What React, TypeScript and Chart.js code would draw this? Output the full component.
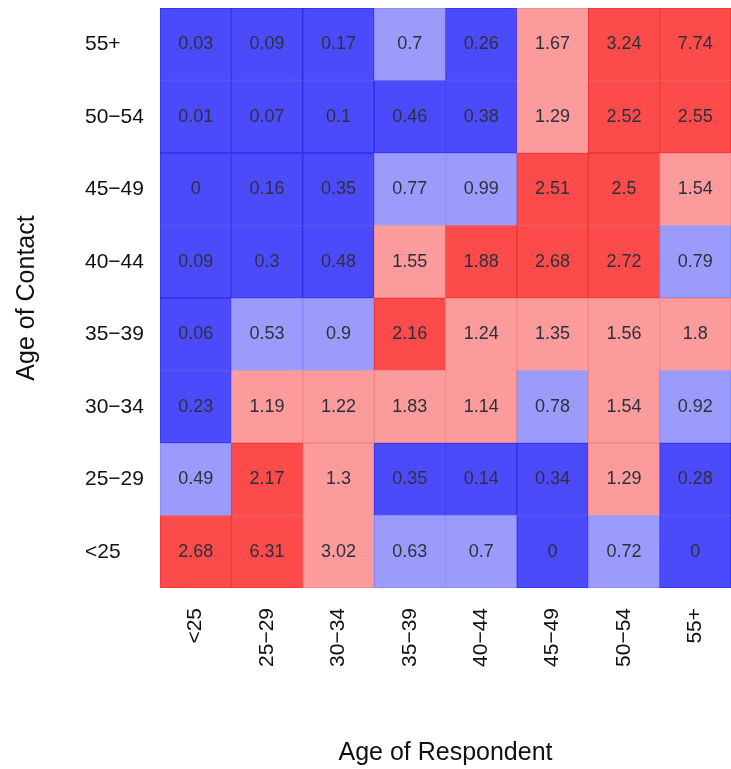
import React, { useEffect, useRef } from 'react';
import { Chart, registerables } from 'chart.js';

Chart.register(...registerables);

// Age groups (x: respondent, y: contact; y listed bottom to top)
const respondentAges = ['<25', '25\u221229', '30\u221234', '35\u221239', '40\u221244', '45\u221249', '50\u221254', '55+'];
const contactAges = ['<25', '25\u221229', '30\u221234', '35\u221239', '40\u221244', '45\u221249', '50\u221254', '55+'];

// Cell values per contact-age row, columns = respondent ages
const contactLt25 = [2.68, 6.31, 3.02, 0.63, 0.7, 0, 0.72, 0];
const contact25to29 = [0.49, 2.17, 1.3, 0.35, 0.14, 0.34, 1.29, 0.28];
const contact30to34 = [0.23, 1.19, 1.22, 1.83, 1.14, 0.78, 1.54, 0.92];
const contact35to39 = [0.06, 0.53, 0.9, 2.16, 1.24, 1.35, 1.56, 1.8];
const contact40to44 = [0.09, 0.3, 0.48, 1.55, 1.88, 2.68, 2.72, 0.79];
const contact45to49 = [0, 0.16, 0.35, 0.77, 0.99, 2.51, 2.5, 1.54];
const contact50to54 = [0.01, 0.07, 0.1, 0.46, 0.38, 1.29, 2.52, 2.55];
const contact55plus = [0.03, 0.09, 0.17, 0.7, 0.26, 1.67, 3.24, 7.74];

// Colour class per cell (0 = dark blue, 1 = light blue, 2 = pink, 3 = red)
const levelLt25 = [3, 3, 2, 1, 1, 0, 1, 0];
const level25to29 = [1, 3, 2, 0, 0, 0, 2, 0];
const level30to34 = [0, 2, 2, 2, 2, 1, 2, 1];
const level35to39 = [0, 1, 1, 3, 2, 2, 2, 2];
const level40to44 = [0, 0, 0, 2, 3, 3, 3, 1];
const level45to49 = [0, 0, 0, 1, 1, 3, 3, 2];
const level50to54 = [0, 0, 0, 0, 0, 2, 3, 3];
const level55plus = [0, 0, 0, 1, 0, 2, 3, 3];

const cellValues = [contactLt25, contact25to29, contact30to34, contact35to39, contact40to44, contact45to49, contact50to54, contact55plus];
const cellLevels = [levelLt25, level25to29, level30to34, level35to39, level40to44, level45to49, level50to54, level55plus];

const fillColors = ['#4b4bfb', '#9b9bfb', '#fb9b9b', '#fb4b4b'];
const edgeColors = ['#2e2ef2', '#8686f6', '#f28686', '#f03434'];

const FONT = '"Liberation Sans", Arial, Helvetica, sans-serif';

const cellLabelPlugin = {
  id: 'cellLabels',
  afterDatasetsDraw(chart: any) {
    const ctx = chart.ctx;
    ctx.save();
    ctx.font = `18px ${FONT}`;
    ctx.fillStyle = '#2f2f3c';
    ctx.textAlign = 'center';
    ctx.textBaseline = 'middle';
    chart.data.datasets.forEach((_ds: any, di: number) => {
      const meta = chart.getDatasetMeta(di);
      meta.data.forEach((el: any, i: number) => {
        const p = el.getProps(['x', 'y', 'base'], true);
        ctx.fillText(String(cellValues[di][i]), p.x, (p.y + p.base) / 2);
      });
    });
    ctx.restore();
  },
};

export default function App() {
  const ref = useRef<HTMLCanvasElement>(null);

  useEffect(() => {
    if (!ref.current) return;
    const datasets = contactAges.map((age, r) => ({
      label: age,
      data: respondentAges.map(() => 1),
      backgroundColor: cellLevels[r].map((l) => fillColors[l]),
      borderColor: cellLevels[r].map((l) => edgeColors[l]),
      borderWidth: 1,
      borderSkipped: false,
      barPercentage: 1,
      categoryPercentage: 1,
    }));

    const chart = new Chart(ref.current, {
      type: 'bar',
      data: { labels: respondentAges, datasets },
      plugins: [cellLabelPlugin],
      options: {
        animation: false,
        responsive: false,
        devicePixelRatio: 1,
        layout: { padding: { top: 8, right: 0, bottom: 0, left: 0 } },
        plugins: {
          legend: { display: false },
          tooltip: { enabled: false },
          title: {
            display: true,
            position: 'left',
            fullSize: false,
            text: 'Age of Contact',
            color: '#111',
            font: { family: FONT, size: 25, weight: 'normal' },
            padding: { top: 12, bottom: 43 },
          },
        },
        scales: {
          x: {
            stacked: true,
            grid: { display: false },
            border: { display: false },
            ticks: {
              minRotation: 90,
              maxRotation: 90,
              padding: 12,
              color: '#111',
              font: { family: FONT, size: 21 },
            },
            title: {
              display: true,
              text: 'Age of Respondent',
              color: '#111',
              font: { family: FONT, size: 25 },
              padding: { top: 0, bottom: 1 },
            },
            afterFit: (s: any) => {
              s.height = 181;
              s.paddingLeft = 0;
              s.paddingRight = 0;
            },
          },
          y: {
            stacked: true,
            min: 0,
            max: 8,
            grid: { display: false },
            border: { display: false },
            afterBuildTicks: (s: any) => {
              s.ticks = contactAges.map((_a, i) => ({ value: i + 0.5 }));
            },
            ticks: {
              crossAlign: 'far',
              color: '#111',
              font: { family: FONT, size: 21 },
              callback: (_v: any, i: number) => contactAges[i],
            },
            afterFit: (s: any) => {
              s.width = 75;
              s.paddingTop = 0;
              s.paddingBottom = 0;
            },
          },
        },
      },
    } as any);
    return () => chart.destroy();
  }, []);

  return (
    <div style={{ position: 'fixed', left: 0, top: 0, width: 731, height: 769, background: '#fff' }}>
      <canvas ref={ref} width={731} height={769} style={{ display: 'block', width: 731, height: 769 }} />
    </div>
  );
}
